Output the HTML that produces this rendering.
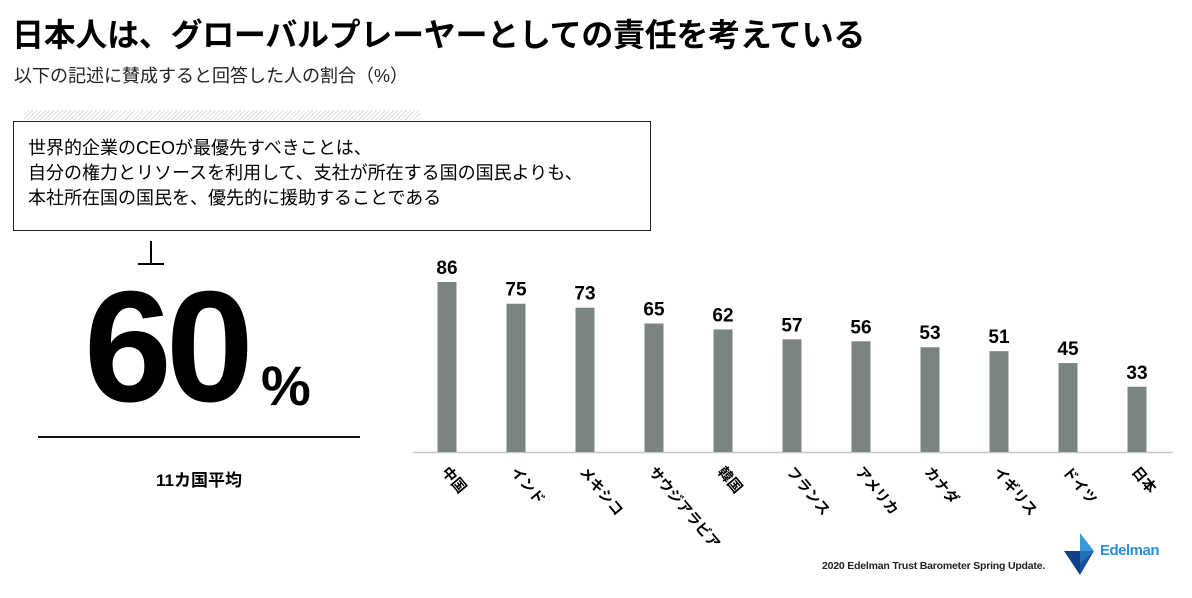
<!DOCTYPE html>
<html><head><meta charset="utf-8"><style>
body{margin:0;width:1192px;height:598px;background:#fff;position:relative;overflow:hidden;font-family:"Liberation Sans","Noto Sans CJK JP",sans-serif;color:#000}
.a{position:absolute;white-space:nowrap}
</style></head><body>
<div class="a" style="left:12px;top:10px;font-size:32px;font-weight:bold;letter-spacing:-0.3px">日本人は、グローバルプレーヤーとしての責任を考えている</div>
<div class="a" style="left:14px;top:62px;font-size:18px;color:#222">以下の記述に賛成すると回答した人の割合（%）</div>
<div class="a" style="left:24px;top:110px;width:396px;height:10px;background:repeating-linear-gradient(135deg,#ddd 0 1px,#fff 1px 3px)"></div>
<div class="a" style="left:13px;top:121px;width:638px;height:110px;border:1.5px solid #222;background:#fff;font-size:18px;line-height:25px;padding:14px 0 0 14px;box-sizing:border-box">世界的企業のCEOが最優先すべきことは、<br>自分の権力とリソースを利用して、支社が所在する国の国民よりも、<br>本社所在国の国民を、優先的に援助することである</div>
<div class="a" style="left:138px;top:241px;width:26px;height:24px"><div style="position:absolute;left:12px;top:0;width:1.5px;height:22px;background:#000"></div><div style="position:absolute;left:0;top:22px;width:26px;height:2px;background:#000"></div></div>
<div class="a" style="left:84px;top:268px;font-size:158px;font-weight:bold;letter-spacing:-6px;line-height:158px">60</div>
<div class="a" style="left:261px;top:358px;font-size:56px;font-weight:bold;line-height:56px">%</div>
<div class="a" style="left:38px;top:436px;width:322px;height:2px;background:#111"></div>
<div class="a" style="left:38px;top:466px;width:322px;text-align:center;font-size:17px;font-weight:bold">11カ国平均</div>
<svg class="a" id="chart" style="left:0;top:0" width="1192" height="598"></svg>
<div class="a" style="left:822px;top:560px;font-size:10.5px;font-weight:bold;color:#222;letter-spacing:-0.2px">2020 Edelman Trust Barometer Spring Update.</div>
<svg class="a" style="left:1062px;top:533px" width="110" height="44">
<polygon points="18,0 32,18 18,18" fill="#3a9ad9"/><polygon points="32,18 18,18 18,30" fill="#1f6fb8"/>
<polygon points="2,18 18,18 18,42" fill="#0f3f86"/><polygon points="18,30 32,18 18,42" fill="#1a4f9a"/>
<text x="38" y="22" font-size="15" font-weight="bold" fill="#2a8fd4" font-family="Liberation Sans, sans-serif" letter-spacing="-0.5">Edelman</text></svg>
<script>
const categories=["中国","インド","メキシコ","サウジアラビア","韓国","フランス","アメリカ","カナダ","イギリス","ドイツ","日本"];
const values=[86,75,73,65,62,57,56,53,51,45,33];
const svg=document.getElementById('chart');const NS='http://www.w3.org/2000/svg';
const x0=447,step=69,base=452,scale=170/86,bw=19;
const xp=i=>x0+i*step, yp=v=>base-v*scale;
function mk(t,a){const e=document.createElementNS(NS,t);for(const k in a)e.setAttribute(k,a[k]);svg.appendChild(e);return e;}
const ax=mk('line',{x1:413,x2:1173,y1:base+0.5,y2:base+0.5,stroke:'#c8c8c8','stroke-width':1.5});


values.forEach((v,i)=>{
 const r=mk('rect',{x:xp(i)-bw/2,y:yp(v),width:bw,height:v*scale,fill:'#7a8583'});
 
 
 const t=mk('text',{x:xp(i),y:yp(v)-8,'text-anchor':'middle','font-size':19,'font-weight':'bold','font-family':'Liberation Sans, sans-serif'});
 t.textContent=v;
 
 
 const c=mk('text',{x:0,y:0,'font-size':14.5,'font-weight':'bold','font-family':'Liberation Sans, Noto Sans CJK JP, sans-serif',transform:`translate(${xp(i)-6},${base+20}) rotate(50)`});
 c.textContent=categories[i];
 
 
});
</script>
</body></html>
